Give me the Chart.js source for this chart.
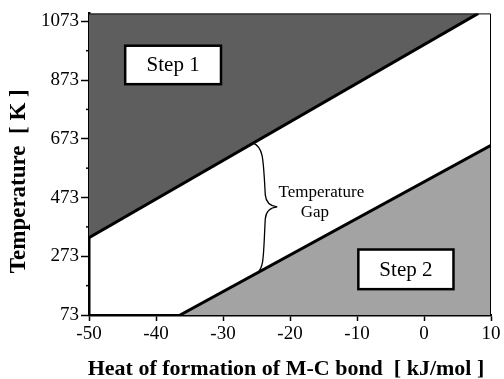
<!DOCTYPE html>
<html>
<head>
<meta charset="utf-8">
<script src="https://cdn.jsdelivr.net/npm/chart.js@4.4.1/dist/chart.umd.min.js"></script>
<style>
  html, body { margin: 0; padding: 0; background: #fff; }
  #wrap { width: 504px; height: 379px; position: relative; }
</style>
</head>
<body>
<div id="wrap"><canvas id="gapChart"></canvas></div>
<script>
// values
const xTicks = [-50, -40, -30, -20, -10, 0, 10];
const yTicks = [73, 273, 473, 673, 873, 1073];
const yMinorTicks = [173, 373, 573, 773, 973];

// Step 1 boundary (upper line) and Step 2 boundary (lower line)
const step1X = [-50, 8.1];
const step1T = [336, 1100];
const step2X = [-36.4, 10];
const step2T = [73, 651];

const xTitle = 'Heat of formation of M-C bond  [ kJ/mol ]';
const yTitle = 'Temperature  [ K ]';

const serif = '"Liberation Serif", "Times New Roman", serif';

const toPoints = (xs, ys) => xs.map((x, i) => ({ x: x, y: ys[i] }));

// boxes, brace, gap label and axis titles, drawn on top of the fills
const annotations = {
    id: 'annotations',
    afterDraw(chart) {
        const { ctx, chartArea, scales: { x, y } } = chart;
        ctx.save();

        // thin top/right frame
        ctx.strokeStyle = '#000';
        ctx.lineWidth = 1;
        ctx.beginPath();
        ctx.moveTo(chartArea.left, chartArea.top + 0.5);
        ctx.lineTo(chartArea.right - 0.5, chartArea.top + 0.5);
        ctx.lineTo(chartArea.right - 0.5, chartArea.bottom);
        ctx.stroke();

        // minor ticks on the y axis
        ctx.lineWidth = 1.5;
        yMinorTicks.forEach(v => {
            const py = y.getPixelForValue(v);
            ctx.beginPath();
            ctx.moveTo(chartArea.left - 3, py);
            ctx.lineTo(chartArea.left, py);
            ctx.stroke();
        });

        const box = (x0, x1, t0, t1, text) => {
            const l = x.getPixelForValue(x0), r = x.getPixelForValue(x1);
            const tp = y.getPixelForValue(t0), bt = y.getPixelForValue(t1);
            ctx.fillStyle = '#fff';
            ctx.fillRect(l, tp, r - l, bt - tp);
            ctx.lineWidth = 2.5;
            ctx.strokeStyle = '#000';
            ctx.strokeRect(l, tp, r - l, bt - tp);
            ctx.fillStyle = '#000';
            ctx.font = '21px ' + serif;
            ctx.textAlign = 'center';
            ctx.textBaseline = 'middle';
            ctx.fillText(text, (l + r) / 2, (tp + bt) / 2 + 1);
        };
        box(-44.6, -30.3, 990, 859, 'Step 1');
        box(-9.8, 4.4, 296, 161, 'Step 2');

        // curly brace spanning the gap
        const P = (vx, vt) => [x.getPixelForValue(vx), y.getPixelForValue(vt)];
        const top = P(-25.5, 658), tip = P(-21.9, 441), bot = P(-24.9, 215);
        ctx.lineWidth = 1.3;
        ctx.beginPath();
        ctx.moveTo(top[0], top[1]);
        ctx.bezierCurveTo(top[0] + 10, top[1] + 4, tip[0] - 14, tip[1] - 50, tip[0] - 12, tip[1] - 12);
        ctx.quadraticCurveTo(tip[0] - 11, tip[1] - 1, tip[0], tip[1]);
        ctx.quadraticCurveTo(tip[0] - 11, tip[1] + 1, tip[0] - 12, tip[1] + 12);
        ctx.bezierCurveTo(tip[0] - 14, tip[1] + 50, bot[0] + 7, bot[1] - 6, bot[0], bot[1]);
        ctx.stroke();

        ctx.fillStyle = '#000';
        ctx.font = '17px ' + serif;
        ctx.textBaseline = 'middle';
        const g1 = P(-21.7, 490), g2 = P(-16.3, 422);
        ctx.textAlign = 'left';
        ctx.fillText('Temperature', g1[0], g1[1]);
        ctx.textAlign = 'center';
        ctx.fillText('Gap', g2[0], g2[1]);

        // axis titles
        ctx.font = 'bold 22px ' + serif;
        ctx.textAlign = 'center';
        ctx.textBaseline = 'middle';
        ctx.fillText(xTitle, (chartArea.left + chartArea.right) / 2 - 4, chartArea.bottom + 54);
        ctx.translate(19, (chartArea.top + chartArea.bottom) / 2 + 17);
        ctx.rotate(-Math.PI / 2);
        ctx.font = 'bold 23px ' + serif;
        ctx.fillText(yTitle, 0, 0);

        ctx.restore();
    }
};

const gapChart = new Chart(document.getElementById('gapChart'), {
    type: 'scatter',
    data: {
        datasets: [{
            label: 'Step 1',
            data: toPoints(step1X, step1T),
            showLine: true,
            fill: 'end',
            backgroundColor: '#5e5e5e',
            borderColor: '#000',
            borderWidth: 3,
            pointRadius: 0
        }, {
            label: 'Step 2',
            data: toPoints(step2X, step2T),
            showLine: true,
            fill: 'start',
            backgroundColor: '#a3a3a3',
            borderColor: '#000',
            borderWidth: 3,
            pointRadius: 0
        }]
    },
    options: {
        responsive: true,
        maintainAspectRatio: false,
        animation: false,
        layout: { padding: { top: 11, right: 13, left: 0, bottom: 0 } },
        plugins: {
            legend: { display: false },
            tooltip: { enabled: false }
        },
        scales: {
            x: {
                type: 'linear',
                min: -50,
                max: 10,
                afterBuildTicks: s => { s.ticks = xTicks.map(v => ({ value: v })); },
                afterFit: s => { s.height = 64; },
                border: { display: true, color: '#000', width: 2.5 },
                grid: { drawOnChartArea: false, drawTicks: true, tickLength: 6, tickColor: '#000', tickWidth: 1.5 },
                ticks: { color: '#000', font: { family: serif, size: 19 }, padding: 2, callback: v => String(v) }
            },
            y: {
                type: 'linear',
                min: 73,
                max: 1100,
                afterBuildTicks: s => { s.ticks = yTicks.map(v => ({ value: v })); },
                afterFit: s => { s.width = 89; },
                border: { display: true, color: '#000', width: 2.5 },
                grid: { drawOnChartArea: false, drawTicks: true, tickLength: 8, tickColor: '#000', tickWidth: 1.5 },
                ticks: { color: '#000', font: { family: serif, size: 19 }, padding: 2, callback: v => String(v) }
            }
        }
    },
    plugins: [annotations]
});
</script>
</body>
</html>
